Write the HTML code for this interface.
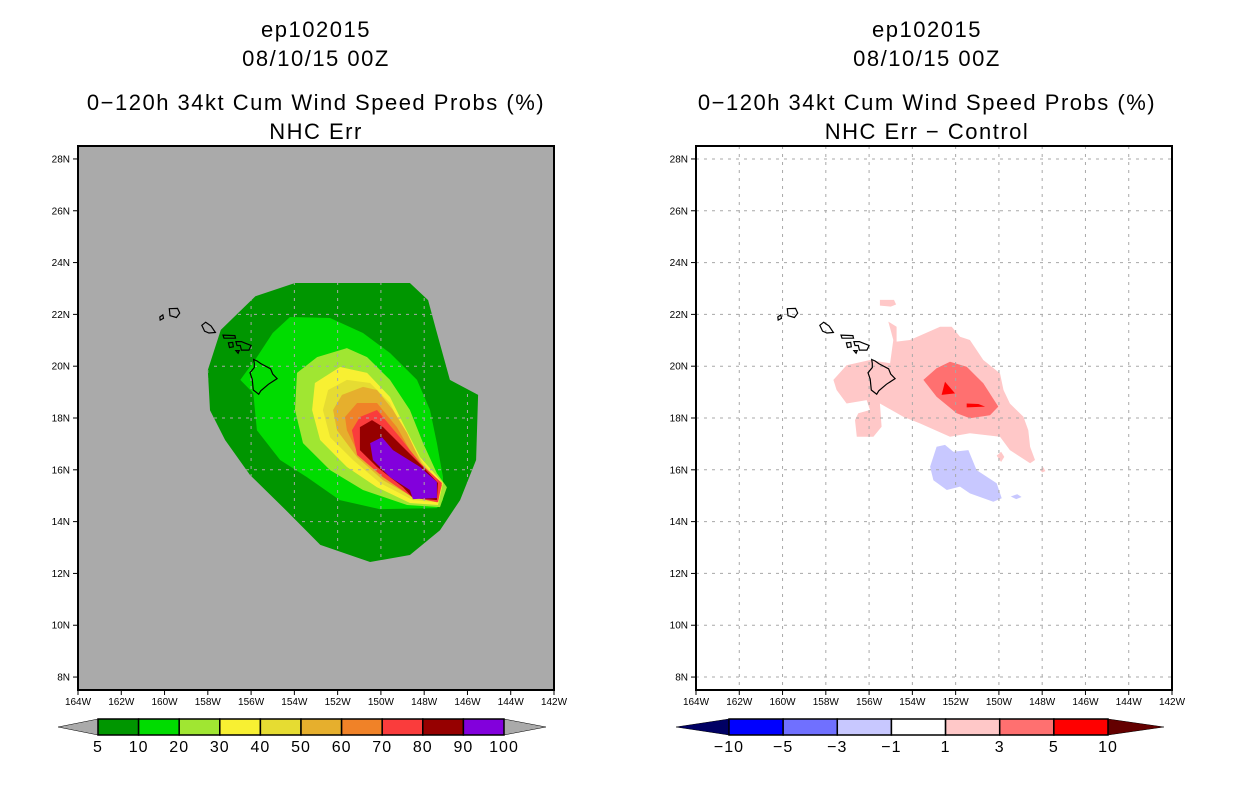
<!DOCTYPE html>
<html><head><meta charset="utf-8"><style>
html,body{margin:0;padding:0;background:#fff;}
svg{display:block;font-family:"Liberation Sans",sans-serif;}
</style></head><body>
<svg id="s" width="1236" height="800" viewBox="0 0 1236 800" xmlns="http://www.w3.org/2000/svg">
<defs><clipPath id="leftClip"><polygon id="leftClipPoly" points=""/></clipPath></defs>
<g font-size="22" letter-spacing="1.5" text-anchor="middle">
<text x="316" y="37">ep102015</text><text x="316" y="66">08/10/15 00Z</text>
<text x="316" y="110">0−120h 34kt Cum Wind Speed Probs (%)</text><text x="316" y="139">NHC Err</text></g>
<g font-size="22" letter-spacing="1.5" text-anchor="middle">
<text x="927" y="37">ep102015</text><text x="927" y="66">08/10/15 00Z</text>
<text x="927" y="110">0−120h 34kt Cum Wind Speed Probs (%)</text><text x="927" y="139">NHC Err − Control</text></g>
<g id="L"></g>
<g id="R"></g>
<g id="CB"></g>
</svg>
<script>
// ---- data (lon/lat degrees) ----
const lonMin=-164, lonMax=-142, latMin=7.5, latMax=28.5;
const lonTicks=[-164,-162,-160,-158,-156,-154,-152,-150,-148,-146,-144,-142];
const latTicks=[8,10,12,14,16,18,20,22,24,26,28];
const probLevels=[5,10,20,30,40,50,60,70,80,90];
const probColors=['#009600','#00dc00','#a0e632','#f8f032','#e6dc32','#e6af2d','#f08228','#fa3c3c','#960000','#8200dc'];
const c5=[[-153.97,23.21],[-148.66,23.21],[-147.82,22.55],[-147.45,21.4],[-146.81,19.47],[-145.51,18.89],[-145.6,16.38],[-146.34,14.83],[-147.27,13.67],[-148.66,12.71],[-150.5,12.44],[-152.8,13.1],[-154.4,14.45],[-156.05,15.8],[-157.2,17.15],[-157.9,18.3],[-158.0,19.85],[-157.4,21.4],[-155.8,22.7]];
const c10=[[-154.2,21.9],[-152.35,21.86],[-150.83,21.28],[-149.58,20.51],[-148.33,19.47],[-147.73,18.31],[-147.41,17.03],[-147.13,15.72],[-147.13,14.83],[-147.41,14.52],[-150.04,14.48],[-151.9,14.83],[-153.42,15.72],[-154.66,16.38],[-155.73,17.53],[-155.9,18.96],[-156.5,19.47],[-155.73,20.35],[-155.0,21.28]];
const c20=[[-151.57,20.7],[-150.64,20.35],[-149.58,19.47],[-148.66,18.31],[-148.05,17.03],[-147.41,15.87],[-146.95,15.33],[-147.27,14.56],[-148.79,14.64],[-150.83,15.22],[-152.35,15.99],[-153.6,17.03],[-153.97,18.31],[-153.88,19.74],[-152.95,20.35]];
const c30=[[-151.89,19.97],[-150.64,19.74],[-149.58,18.81],[-148.98,17.8],[-148.19,16.49],[-147.13,15.49],[-147.36,14.64],[-148.66,14.72],[-150.18,15.33],[-151.57,16.11],[-152.81,17.15],[-153.18,18.31],[-153.05,19.35]];
const c40=[[-151.57,19.47],[-150.5,19.35],[-149.58,18.58],[-148.98,17.53],[-148.05,16.26],[-147.18,15.41],[-147.41,14.75],[-148.52,14.83],[-150.04,15.49],[-151.29,16.38],[-152.35,17.26],[-152.68,18.31],[-152.44,19.08]];
const c50=[[-150.83,19.2],[-150.18,19.08],[-149.44,18.31],[-148.79,17.42],[-148.05,16.11],[-147.18,15.41],[-147.41,14.75],[-148.52,14.95],[-149.9,15.6],[-151.1,16.49],[-152.03,17.53],[-152.21,18.31],[-151.8,18.89]];
const c60=[[-151.1,18.58],[-150.18,18.58],[-149.26,17.65],[-148.66,16.76],[-147.87,15.99],[-147.18,15.41],[-147.41,14.75],[-148.56,14.95],[-149.9,15.72],[-150.97,16.49],[-151.57,17.53],[-151.66,18.04]];
const c70=[[-150.97,18.04],[-150.18,18.31],[-149.12,17.26],[-148.19,16.26],[-147.18,15.49],[-147.36,14.75],[-148.56,14.95],[-149.9,15.72],[-151.1,16.57],[-151.34,17.53]];
const c80=[[-150.97,17.65],[-150.41,17.92],[-149.9,17.65],[-148.98,16.88],[-148.05,16.11],[-147.36,15.49],[-147.41,14.83],[-148.52,14.91],[-148.98,15.33],[-150.18,16.11],[-150.97,16.76]];
const c90=[[-150.5,17.03],[-149.95,17.26],[-149.44,16.76],[-148.19,16.11],[-147.41,15.53],[-147.41,14.91],[-148.52,14.87],[-148.66,15.22],[-149.58,15.72],[-150.37,16.38]];
const probPolys=[c5,c10,c20,c30,c40,c50,c60,c70,c80,c90];
const diffLevels=[-10,-5,-3,-1,1,3,5,10];
const diffColors=['#000064','#0000ff','#7070ff','#c8c8ff','#ffffff','#ffc8c8','#ff7070','#ff0000','#640000'];
const d1=[[-157.65,19.47],[-157.04,20.04],[-155.96,20.24],[-155.03,20.11],[-154.88,21.01],[-155.11,21.72],[-154.73,21.52],[-154.73,20.95],[-154.11,21.01],[-152.72,21.52],[-152.18,21.52],[-151.8,21.14],[-151.34,21.01],[-150.72,20.24],[-149.95,19.72],[-149.79,19.08],[-149.49,18.56],[-148.87,18.05],[-148.64,17.53],[-148.56,16.89],[-148.33,16.38],[-148.56,16.25],[-149.49,16.76],[-149.95,17.28],[-151.34,17.41],[-152.26,17.28],[-153.65,17.79],[-154.42,18.05],[-155.5,18.56],[-155.42,17.66],[-155.8,17.28],[-156.57,17.28],[-156.65,17.92],[-156.5,18.18],[-155.96,18.31],[-156.11,18.69],[-157.04,18.56],[-157.5,19.08]];
const d1b=[[-155.5,22.56],[-154.85,22.56],[-154.75,22.38],[-155.0,22.3],[-155.5,22.34]];
const d1c=[[-150.1,16.55],[-149.9,16.7],[-149.75,16.5],[-149.9,16.3]];
const d1d=[[-148.1,16.0],[-147.95,16.1],[-147.85,15.95],[-148.0,15.9]];
const d3=[[-153.49,19.47],[-152.88,19.92],[-152.26,20.17],[-151.49,19.98],[-150.72,19.34],[-150.03,18.44],[-150.41,18.11],[-151.34,17.99],[-151.95,18.18],[-152.88,18.82]];
const d5a=[[-152.49,19.4],[-152.03,18.95],[-152.65,18.89]];
const d5b=[[-151.49,18.56],[-150.95,18.54],[-150.64,18.44],[-151.49,18.41]];
const dm1=[[-153.18,16.12],[-152.88,16.89],[-152.49,16.96],[-152.11,16.7],[-151.41,16.76],[-151.03,15.99],[-150.1,15.48],[-149.87,14.9],[-150.26,14.77],[-151.34,15.09],[-151.8,15.35],[-152.41,15.22],[-153.03,15.6]];
const dm1b=[[-149.45,14.97],[-149.15,15.06],[-148.95,14.95],[-149.2,14.87]];
const diffPolys=[[d1,'#ffc8c8'],[d1b,'#ffc8c8'],[d1c,'#ffc8c8'],[d1d,'#ffc8c8'],[d3,'#ff7070'],[d5a,'#ff0000'],[d5b,'#ff0000'],[dm1,'#c8c8ff'],[dm1b,'#c8c8ff']];
const islands=[
 [[-159.78,22.22],[-159.4,22.23],[-159.3,22.05],[-159.45,21.88],[-159.75,21.95]],
 [[-160.22,21.9],[-160.08,21.98],[-160.05,21.85],[-160.2,21.78]],
 [[-158.28,21.58],[-158.1,21.7],[-157.85,21.55],[-157.65,21.3],[-157.95,21.28],[-158.15,21.35]],
 [[-157.3,21.2],[-156.75,21.18],[-156.72,21.08],[-157.25,21.08]],
 [[-157.05,20.9],[-156.85,20.92],[-156.82,20.75],[-157.0,20.72]],
 [[-156.7,20.95],[-156.45,20.95],[-156.3,20.9],[-156.0,20.8],[-156.1,20.62],[-156.45,20.62],[-156.5,20.8],[-156.65,20.8]],
 [[-156.7,20.6],[-156.55,20.6],[-156.6,20.5]],
 [[-155.88,20.26],[-155.72,20.2],[-155.55,20.1],[-155.1,19.9],[-155.0,19.7],[-154.8,19.52],[-155.2,19.3],[-155.55,19.05],[-155.65,18.92],[-155.9,19.08],[-155.95,19.5],[-156.05,19.75],[-155.85,19.95],[-155.85,20.1]]
];
// ---- axes ----
const panels=[{id:'L',x0:78,bg:'#aaaaaa',name:'left'},{id:'R',x0:696,bg:'#ffffff',name:'right'}];
const PW=476,Y0=146,PH=544;
const NS='http://www.w3.org/2000/svg';
function mk(tag,attrs,parent){const e=document.createElementNS(NS,tag);for(const k in attrs)e.setAttribute(k,attrs[k]);parent.appendChild(e);return e;}
function xs(p,lon){return p.x0+(lon-lonMin)/(lonMax-lonMin)*PW;}
function ys(lat){return Y0+(latMax-lat)/(latMax-latMin)*PH;}
function pts(p,poly){return poly.map(q=>xs(p,q[0]).toFixed(1)+','+ys(q[1]).toFixed(1)).join(' ');}
document.getElementById('leftClipPoly').setAttribute('points',pts(panels[0],c5));
panels.forEach(p=>{
 const g=document.getElementById(p.id);
 const bg=mk('rect',{x:p.x0,y:Y0,width:PW,height:PH,fill:p.bg},g);
 
 
 if(p.id==='L'){
  probPolys.forEach((poly,i)=>{const e=mk('polygon',{points:pts(p,poly),fill:probColors[i]},g);
   
   });
 } else {
  diffPolys.forEach((d,i)=>{const e=mk('polygon',{points:pts(p,d[0]),fill:d[1]},g);
   
   });
 }
 const gg=mk('g',p.id==='L'?{'clip-path':'url(#leftClip)'}:{},g);
 
 
 lonTicks.slice(1,-1).forEach(lon=>{const e=mk('line',{x1:xs(p,lon),x2:xs(p,lon),y1:Y0,y2:Y0+PH,stroke:'#a8a8a8','stroke-dasharray':'3,5'},gg);
  
  });
 latTicks.forEach(lat=>{const e=mk('line',{x1:p.x0,x2:p.x0+PW,y1:ys(lat),y2:ys(lat),stroke:'#a8a8a8','stroke-dasharray':'3,5'},gg);
  
  });
 islands.forEach(poly=>{const e=mk('polygon',{points:pts(p,poly),fill:'none',stroke:'#000','stroke-width':1.2},g);
  
  });
 const fr=mk('rect',{x:p.x0,y:Y0,width:PW,height:PH,fill:'none',stroke:'#000','stroke-width':2},g);
 
 
 lonTicks.forEach(lon=>{const x=xs(p,lon);
  mk('line',{x1:x,x2:x,y1:Y0+PH,y2:Y0+PH+5,stroke:'#000'},g);
  const t=mk('text',{x:x,y:Y0+PH+15,'font-size':10,'text-anchor':'middle'},g);
  t.textContent=(-lon)+'W';
  
  });
 latTicks.forEach(lat=>{const y=ys(lat);
  mk('line',{x1:p.x0-5,x2:p.x0,y1:y,y2:y,stroke:'#000'},g);
  const t=mk('text',{x:p.x0-8,y:y+3.5,'font-size':10,'text-anchor':'end'},g);
  t.textContent=lat+'N';
  
  });
});
// ---- colorbars ----
const cb=document.getElementById('CB');
function colorbar(x0,x1,tipL,tipR,colors,labels,leftTri,rightTri,name){
 const n=colors.length, w=(x1-x0)/n, yT=719, yB=735;
 const lt=mk('polygon',{points:`${tipL},727 ${x0},${yT} ${x0},${yB}`,fill:leftTri,stroke:'#000','stroke-width':0.5},cb);
 
 
 const rt=mk('polygon',{points:`${tipR},727 ${x1},${yT} ${x1},${yB}`,fill:rightTri,stroke:'#000','stroke-width':0.5},cb);
 
 
 colors.forEach((c,i)=>{const r=mk('rect',{x:x0+i*w,y:yT,width:w,height:yB-yT,fill:c,stroke:'#000','stroke-width':1.5},cb);
  
  });
 labels.forEach((l,i)=>{const t=mk('text',{x:x0+i*w,y:752,'font-size':16,'letter-spacing':1,'text-anchor':'middle'},cb);
  t.textContent=String(l).replace('-','−');
  
  });
}
colorbar(98,504,58,546,probColors,[5,10,20,30,40,50,60,70,80,90,100],'#aaaaaa','#aaaaaa','prob-colorbar');
colorbar(729,1108,676,1164,diffColors.slice(1,8),diffLevels,diffColors[0],diffColors[8],'diff-colorbar');
</script>
</body></html>
